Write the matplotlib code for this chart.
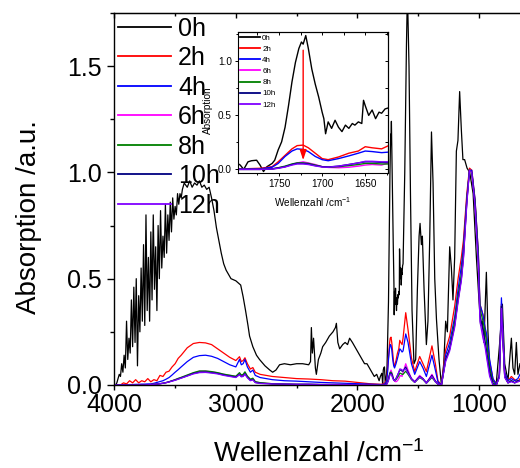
import numpy as np
import matplotlib
matplotlib.use('Agg')
import matplotlib.pyplot as plt
from matplotlib.ticker import MultipleLocator

plt.rcParams['font.family'] = ['Liberation Sans', 'DejaVu Sans']
plt.rcParams['mathtext.fontset'] = 'custom'
plt.rcParams['mathtext.rm'] = 'Liberation Sans'
plt.rcParams['mathtext.it'] = 'Liberation Sans:italic'

# ------------------------------------------------------------
# Données
# ------------------------------------------------------------
labels = ['0h', '2h', '4h', '6h', '8h', '10h', '12h']
colors = ['#000000', '#ff0000', '#0000ff', '#ff00ff', '#008000', '#000080', '#8000ff']

# spectre 0h (bruité, grille propre)
wn_0h = [4000, 3990, 3980, 3970, 3960, 3950, 3940, 3930, 3920, 3910,
         3900, 3890, 3880, 3870, 3860, 3850, 3840, 3830, 3820, 3810,
         3800, 3790, 3780, 3770, 3760, 3750, 3740, 3730, 3720, 3710,
         3700, 3690, 3680, 3670, 3660, 3650, 3640, 3630, 3620, 3610,
         3600, 3590, 3580, 3570, 3560, 3550, 3540, 3530, 3520, 3510,
         3500, 3490, 3480, 3470, 3460, 3450, 3440, 3425, 3400, 3380,
         3360, 3340, 3320, 3300, 3280, 3260, 3240, 3220, 3200, 3180,
         3160, 3140, 3120, 3100, 3080, 3060, 3040, 3020, 3000, 2980,
         2960, 2940, 2920, 2900, 2887, 2860, 2830, 2805, 2760, 2720,
         2697, 2670, 2640, 2600, 2550, 2500, 2450, 2400, 2385, 2378,
         2370, 2360, 2345, 2337, 2320, 2300, 2285, 2260, 2230, 2200,
         2180, 2172, 2160, 2145, 2120, 2100, 2080, 2063, 2040, 2020,
         2000, 1980, 1960, 1940, 1920, 1900, 1880, 1860, 1840, 1820,
         1810, 1798, 1795, 1791, 1786, 1782, 1776, 1772, 1768, 1764,
         1758, 1755, 1751, 1747, 1743, 1739, 1735, 1731, 1727, 1724,
         1722, 1719, 1716, 1712, 1708, 1704, 1700, 1698, 1696, 1693,
         1689, 1685, 1681, 1677, 1673, 1669, 1665, 1662, 1658, 1654,
         1652, 1650, 1646, 1642, 1638, 1634, 1631, 1627, 1623, 1609,
         1595, 1587, 1574, 1562, 1549, 1533, 1519, 1505, 1491, 1483,
         1472, 1464, 1450, 1431, 1418, 1403, 1389, 1376, 1362, 1348,
         1327, 1307, 1288, 1272, 1258, 1239, 1225, 1212, 1198, 1184,
         1171, 1157, 1143, 1130, 1116, 1096, 1074, 1046, 1019, 998,
         984, 970, 957, 937, 924, 910, 883, 855, 827, 805,
         786, 759, 731, 718, 704, 690, 677, 660]
abs_0h = [0.0, 0.0, 0.01, 0.03, 0.05, 0.04, 0.1, 0.06, 0.14, 0.08,
          0.3, 0.12, 0.22, 0.15, 0.4, 0.18, 0.46, 0.2, 0.5, 0.09,
          0.42, 0.25, 0.55, 0.3, 0.66, 0.28, 0.8, 0.35, 0.6, 0.3,
          0.72, 0.4, 0.8, 0.45, 0.65, 0.35, 0.75, 0.5, 0.82, 0.55,
          0.7, 0.6, 0.85, 0.62, 0.8, 0.68, 0.86, 0.72, 0.88, 0.78,
          0.84, 0.8, 0.9, 0.85, 0.9, 0.88, 0.92, 0.95, 0.93, 0.96,
          0.93, 0.95, 0.94, 0.96, 0.93, 0.94, 0.92, 0.93, 0.88, 0.82,
          0.74, 0.68, 0.62, 0.57, 0.54, 0.52, 0.5, 0.495, 0.49, 0.48,
          0.47, 0.415, 0.35, 0.28, 0.23, 0.18, 0.14, 0.12, 0.09, 0.07,
          0.06, 0.07, 0.095, 0.1, 0.095, 0.1, 0.1, 0.095, 0.11, 0.27,
          0.15, 0.22, 0.08, 0.05, 0.12, 0.15, 0.18, 0.2, 0.23, 0.25,
          0.27, 0.29, 0.2, 0.17, 0.19, 0.2, 0.19, 0.22, 0.2, 0.18,
          0.16, 0.14, 0.12, 0.1, 0.1, 0.08, 0.06, 0.04, 0.05, 0.02,
          0.04, 0.055, 0.04, 0.0, 0.07, 0.08, 0.085, 0.04, -0.02, 0.025,
          0.055, 0.085, 0.18, 0.255, 0.39, 0.59, 0.81, 0.99, 1.12, 1.18,
          1.16, 1.24, 1.12, 0.93, 0.79, 0.67, 0.53, 0.47, 0.33, 0.44,
          0.38, 0.455, 0.39, 0.35, 0.41, 0.38, 0.425, 0.41, 0.44, 0.425,
          0.64, 0.59, 0.5, 0.55, 0.47, 0.53, 0.52, 0.56, 0.57, 1.0,
          1.6, 1.85, 1.5, 0.9, 0.35, 0.1, 0.12, 0.45, 0.7, 0.76,
          0.66, 0.7, 0.45, 0.19, 0.3, 0.7, 1.19, 0.95, 0.5, 0.31,
          0.12, 0.0, 0.1, 0.3, 0.25, 0.65, 0.55, 0.4, 0.6, 1.1,
          1.15, 1.38, 1.2, 1.06, 1.06, 1.02, 1.0, 0.9, 0.6, 0.4,
          0.28, 0.3, 0.2, 0.53, 0.25, 0.09, 0.02, 0.01, 0.2, 0.38,
          0.1, 0.02, 0.22, 0.08, 0.05, 0.2, 0.05, 0.1]

# grille commune des spectres 2h..12h
wn = [4000, 3950, 3925, 3900, 3875, 3850, 3825, 3800, 3775, 3750,
      3725, 3700, 3675, 3650, 3625, 3600, 3575, 3550, 3525, 3500,
      3475, 3450, 3400, 3350, 3300, 3250, 3200, 3150, 3100, 3050,
      3000, 2970, 2955, 2940, 2925, 2905, 2880, 2860, 2840, 2800,
      2700, 2600, 2500, 2400, 2300, 2200, 2100, 2000, 1900, 1800,
      1772, 1758, 1751, 1743, 1735, 1729, 1722, 1716, 1708, 1700,
      1693, 1681, 1669, 1658, 1650, 1642, 1631, 1623, 1601, 1582,
      1554, 1527, 1486, 1459, 1431, 1385, 1357, 1336, 1307, 1272,
      1239, 1198, 1170, 1143, 1126, 1098, 1076, 1057, 1030, 1003,
      990, 965, 948, 935, 910, 883, 855, 830, 813, 786,
      759, 731, 704, 677, 660]

abs_2h = [0.0, 0.0, 0.01, 0.005, 0.02, 0.01, 0.025, 0.01, 0.02, 0.015,
          0.03, 0.015, 0.025, 0.02, 0.045, 0.04, 0.06, 0.065, 0.085, 0.1,
          0.125, 0.14, 0.175, 0.195, 0.2, 0.198, 0.19, 0.17, 0.15, 0.13,
          0.115, 0.133, 0.11, 0.115, 0.128, 0.1, 0.075, 0.082, 0.06, 0.05,
          0.04, 0.035, 0.03, 0.028, 0.025, 0.02, 0.018, 0.012, 0.006, 0.003,
          0.01, 0.025, 0.07, 0.13, 0.19, 0.22, 0.225, 0.2, 0.15, 0.1,
          0.09, 0.115, 0.15, 0.17, 0.21, 0.2, 0.19, 0.22, 0.34, 0.26,
          0.127, 0.063, 0.134, 0.1, 0.063, 0.184, 0.1, 0.02, 0.0, 0.165,
          0.23, 0.37, 0.5, 0.6, 0.68, 0.9, 1.02, 1.01, 0.87, 0.62,
          0.38, 0.33, 0.27, 0.22, 0.11, 0.03, 0.0, 0.05, 0.38, 0.05,
          0.02, 0.04, 0.025, 0.015, 0.03]
abs_4h = [0.0, 0.0, 0.0, 0.0, 0.002, 0.002, 0.003, 0.003, 0.004, 0.004,
          0.005, 0.005, 0.008, 0.012, 0.016, 0.02, 0.027, 0.035, 0.047, 0.06,
          0.072, 0.085, 0.11, 0.13, 0.138, 0.14, 0.135, 0.125, 0.11, 0.095,
          0.085, 0.12, 0.095, 0.1, 0.12, 0.085, 0.06, 0.07, 0.045, 0.035,
          0.025, 0.02, 0.018, 0.015, 0.012, 0.01, 0.008, 0.006, 0.004, 0.002,
          0.005, 0.02, 0.055, 0.12, 0.17, 0.19, 0.185, 0.165, 0.12, 0.09,
          0.08, 0.1, 0.125, 0.15, 0.17, 0.165, 0.155, 0.16, 0.24, 0.2,
          0.1, 0.05, 0.11, 0.08, 0.04, 0.14, 0.07, 0.015, 0.0, 0.14,
          0.2, 0.32, 0.45, 0.56, 0.65, 0.88, 1.01, 1.01, 0.87, 0.62,
          0.38, 0.33, 0.27, 0.24, 0.12, 0.03, 0.0, 0.05, 0.41, 0.06,
          0.02, 0.03, 0.02, 0.03, 0.05]
abs_6h = [0.0, 0.0, 0.0, 0.0, 0.0, 0.0, 0.0, 0.0, 0.0, 0.0,
          0.001, 0.002, 0.003, 0.004, 0.006, 0.008, 0.011, 0.015, 0.02, 0.025,
          0.03, 0.035, 0.045, 0.056, 0.064, 0.065, 0.062, 0.057, 0.05, 0.045,
          0.04, 0.055, 0.045, 0.045, 0.058, 0.04, 0.025, 0.03, 0.015, 0.01,
          0.006, 0.004, 0.003, 0.003, 0.002, 0.002, 0.002, 0.001, 0.001, 0.0,
          0.0, 0.005, 0.015, 0.025, 0.045, 0.06, 0.07, 0.06, 0.045, 0.025,
          0.018, 0.015, 0.02, 0.03, 0.04, 0.045, 0.04, 0.06, 0.1, 0.07,
          0.03, 0.015, 0.045, 0.03, 0.01, 0.05, 0.02, 0.005, 0.0, 0.12,
          0.17, 0.28, 0.4, 0.5, 0.6, 0.86, 1.01, 1.0, 0.85, 0.58,
          0.33, 0.24, 0.19, 0.14, 0.05, 0.0, 0.0, 0.04, 0.37, 0.04,
          0.01, 0.02, 0.01, 0.02, 0.02]
abs_8h = [0.0, 0.0, 0.0, 0.0, 0.0, 0.0, 0.0, 0.0, 0.0, 0.0,
          0.001, 0.002, 0.003, 0.004, 0.006, 0.008, 0.011, 0.015, 0.02, 0.025,
          0.031, 0.036, 0.047, 0.058, 0.066, 0.066, 0.063, 0.058, 0.051, 0.046,
          0.041, 0.058, 0.047, 0.05, 0.062, 0.042, 0.027, 0.032, 0.016, 0.011,
          0.006, 0.004, 0.003, 0.003, 0.002, 0.002, 0.002, 0.001, 0.001, 0.0,
          0.0, 0.005, 0.015, 0.03, 0.05, 0.06, 0.06, 0.055, 0.04, 0.025,
          0.02, 0.025, 0.035, 0.045, 0.055, 0.055, 0.05, 0.05, 0.065, 0.05,
          0.025, 0.012, 0.035, 0.025, 0.008, 0.035, 0.015, 0.004, 0.0, 0.12,
          0.17, 0.3, 0.42, 0.52, 0.62, 0.87, 1.01, 1.0, 0.86, 0.6,
          0.36, 0.3, 0.25, 0.2, 0.08, 0.01, 0.0, 0.04, 0.37, 0.04,
          0.01, 0.02, 0.01, 0.02, 0.02]
abs_10h = [0.0, 0.0, 0.0, 0.0, 0.0, 0.0, 0.0, 0.0, 0.0, 0.0,
           0.001, 0.002, 0.003, 0.004, 0.006, 0.008, 0.011, 0.015, 0.019, 0.023,
           0.028, 0.033, 0.043, 0.054, 0.06, 0.061, 0.058, 0.054, 0.047, 0.042,
           0.037, 0.05, 0.04, 0.042, 0.053, 0.036, 0.022, 0.026, 0.012, 0.008,
           0.005, 0.004, 0.003, 0.003, 0.002, 0.002, 0.002, 0.001, 0.001, 0.0,
           0.0, 0.004, 0.012, 0.025, 0.045, 0.055, 0.055, 0.05, 0.035, 0.025,
           0.022, 0.03, 0.045, 0.06, 0.07, 0.07, 0.065, 0.065, 0.085, 0.06,
           0.03, 0.015, 0.04, 0.03, 0.01, 0.045, 0.018, 0.005, 0.0, 0.12,
           0.17, 0.28, 0.4, 0.5, 0.6, 0.86, 1.01, 1.0, 0.85, 0.58,
           0.33, 0.26, 0.21, 0.16, 0.06, 0.005, 0.0, 0.04, 0.37, 0.04,
           0.01, 0.02, 0.01, 0.02, 0.02]
abs_12h = [0.0, 0.0, 0.0, 0.0, 0.0, 0.0, 0.0, 0.0, 0.0, 0.0,
           0.001, 0.002, 0.003, 0.004, 0.006, 0.008, 0.011, 0.014, 0.018, 0.022,
           0.027, 0.032, 0.042, 0.052, 0.058, 0.059, 0.056, 0.052, 0.045, 0.04,
           0.035, 0.048, 0.038, 0.04, 0.05, 0.034, 0.02, 0.024, 0.011, 0.007,
           0.005, 0.004, 0.003, 0.003, 0.002, 0.002, 0.002, 0.001, 0.001, 0.0,
           0.0, 0.003, 0.01, 0.022, 0.04, 0.05, 0.05, 0.045, 0.032, 0.022,
           0.02, 0.03, 0.045, 0.06, 0.075, 0.075, 0.07, 0.07, 0.075, 0.055,
           0.028, 0.012, 0.038, 0.028, 0.008, 0.04, 0.015, 0.004, 0.0, 0.11,
           0.16, 0.27, 0.39, 0.49, 0.59, 0.85, 1.01, 1.0, 0.84, 0.56,
           0.3, 0.22, 0.18, 0.13, 0.04, 0.0, 0.0, 0.035, 0.36, 0.035,
           0.01, 0.015, 0.01, 0.015, 0.02]

# flèche rouge de l'encart (position, début, fin)
arrow_wn = 1722
arrow_from, arrow_to = 1.13, 0.06

series = [(wn_0h, abs_0h)] + [(wn, a) for a in
                              [abs_2h, abs_4h, abs_6h, abs_8h, abs_10h, abs_12h]]

# ------------------------------------------------------------
# Figure principale
# ------------------------------------------------------------
fig = plt.figure(figsize=(5.2, 4.68), dpi=100)
ax = fig.add_axes([0.220, 0.1774, 0.780, 0.795])

for (x, y), lab, c in zip(series, labels, colors):
    ax.plot(x, y, color=c, lw=0.9, label=lab)

ax.set_xlim(4000, 660)
ax.set_ylim(0, 1.75)
ax.xaxis.set_major_locator(MultipleLocator(1000))
ax.xaxis.set_minor_locator(MultipleLocator(500))
ax.yaxis.set_major_locator(MultipleLocator(0.5))
ax.yaxis.set_minor_locator(MultipleLocator(0.25))
ax.yaxis.set_major_formatter(plt.FuncFormatter(lambda v, p: f'{v:.1f}'))
ax.tick_params(axis='x', which='major', direction='out', length=3.5, width=1, labelsize=18, pad=2)
ax.tick_params(axis='x', which='minor', direction='out', length=2.2, width=1)
ax.tick_params(axis='y', which='major', direction='out', length=5, width=1, labelsize=18, pad=4)
ax.tick_params(axis='y', which='minor', direction='out', length=3, width=1)
ax.spines['right'].set_visible(False)
for s in ['left', 'bottom', 'top']:
    ax.spines[s].set_linewidth(1.0)

top = ax.secondary_xaxis('top')
top.xaxis.set_major_locator(MultipleLocator(1000))
top.xaxis.set_minor_locator(MultipleLocator(500))
top.tick_params(which='major', direction='in', length=3.5, width=1, labeltop=False)
top.tick_params(which='minor', direction='in', length=2.2, width=1)

ax.set_ylabel('Absorption /a.u.', fontsize=20)
ax.yaxis.set_label_coords(-0.178, 0.45)
ax.set_xlabel('Wellenzahl /cm$^{-1}$', fontsize=20)
ax.xaxis.set_label_coords(0.504, -0.148)

leg = ax.legend(loc='upper left', bbox_to_anchor=(0, 1), frameon=False, fontsize=18,
                borderaxespad=0, borderpad=0.15, handlelength=2.1, handletextpad=0.3,
                labelspacing=0.22)
for h in leg.get_lines():
    h.set_linewidth(1.3)

# ------------------------------------------------------------
# Encart 1800-1625 cm-1
# ------------------------------------------------------------
ins = fig.add_axes([0.457, 0.630, 0.2885, 0.301])
for (x, y), lab, c in zip(series, labels, colors):
    ins.plot(x, y, color=c, lw=1.0, label=lab)

ins.annotate('', xy=(arrow_wn, arrow_to), xytext=(arrow_wn, arrow_from),
             arrowprops=dict(arrowstyle='-|>,head_length=0.6,head_width=0.2',
                             color='red', lw=1.0))

ins.set_xlim(1798, 1624)
ins.set_ylim(-0.035, 1.27)
ins.xaxis.set_major_locator(MultipleLocator(50))
ins.xaxis.set_minor_locator(MultipleLocator(25))
ins.yaxis.set_major_locator(MultipleLocator(0.5))
ins.yaxis.set_minor_locator(MultipleLocator(0.25))
ins.yaxis.set_major_formatter(plt.FuncFormatter(lambda v, p: f'{v:.1f}'))
ins.tick_params(which='major', direction='out', length=2.5, width=0.7, labelsize=7.2, pad=1.5)
ins.tick_params(which='minor', direction='out', length=1.5, width=0.7)
for s in ins.spines.values():
    s.set_linewidth(0.8)

ins_r = ins.secondary_yaxis('right')
ins_r.yaxis.set_major_locator(MultipleLocator(0.5))
ins_r.yaxis.set_minor_locator(MultipleLocator(0.25))
ins_r.tick_params(which='both', direction='in', length=2.0, width=0.7, labelright=False)
ins_t = ins.secondary_xaxis('top')
ins_t.xaxis.set_major_locator(MultipleLocator(50))
ins_t.xaxis.set_minor_locator(MultipleLocator(25))
ins_t.tick_params(which='both', direction='in', length=2.0, width=0.7, labeltop=False)

ins.set_ylabel('Absorption', fontsize=7.2)
ins.yaxis.set_label_coords(-0.165, 0.45)
ins.set_xlabel('Wellenzahl /cm$^{-1}$', fontsize=7.2)
ins.xaxis.set_label_coords(0.5, -0.155)

ileg = ins.legend(loc='upper left', bbox_to_anchor=(0, 1), frameon=False, fontsize=5.8,
                  borderaxespad=0, borderpad=0.25, handlelength=2.5, handletextpad=0.3,
                  labelspacing=0.43)
for h in ileg.get_lines():
    h.set_linewidth(1.3)

fig.savefig('out.png', dpi=100)
